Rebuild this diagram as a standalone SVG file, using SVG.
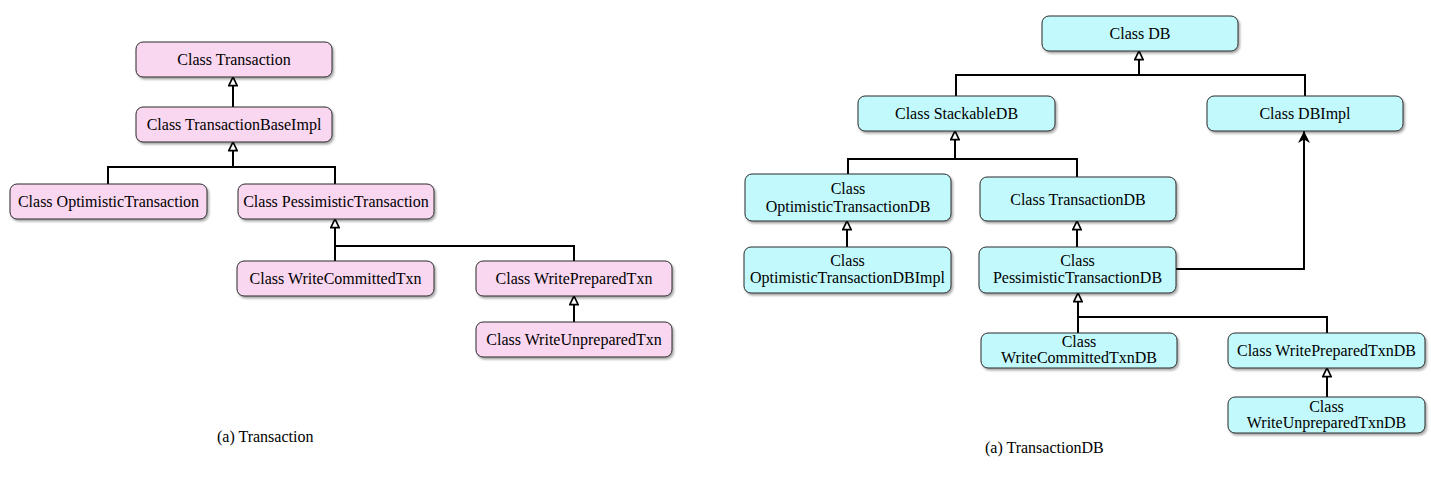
<svg xmlns="http://www.w3.org/2000/svg" width="1431" height="497" viewBox="0 0 1431 497">
<style>
  .n rect { stroke: #2b2b2b; stroke-width: 1; filter: url(#sh); }
  .pink rect { fill: #FAD7F0; }
  .cyan rect { fill: #C2F9FC; }
  text { font-family: "Liberation Serif", "Times New Roman", serif; font-size: 16px; fill: #000; }
  .n text { text-anchor: middle; }
  #connectors path { fill: none; stroke: #000; stroke-width: 2; }
  .inh { marker-end: url(#open); }
  .dep { marker-end: url(#classic); }
</style>
<defs>
  <filter id="sh" x="-10%" y="-20%" width="130%" height="160%">
    <feDropShadow dx="1.5" dy="2" stdDeviation="1.2" flood-color="#000" flood-opacity="0.35"/>
  </filter>
  <marker id="open" viewBox="0 0 10 10" refX="9.5" refY="5" markerWidth="10" markerHeight="10" markerUnits="userSpaceOnUse" orient="auto">
    <path d="M0.8,0.8 L9.5,5 L0.8,9.2 Z" fill="#fff" stroke="#000" stroke-width="1.7"/>
  </marker>
  <marker id="classic" viewBox="0 0 10 10" refX="10" refY="5" markerWidth="13" markerHeight="12" markerUnits="userSpaceOnUse" orient="auto">
    <path d="M0,0 L10,5 L0,10 L3,5 Z" fill="#000"/>
  </marker>
</defs>
<rect x="0" y="0" width="1431" height="497" fill="#fff"/>

<g id="connectors">
  <path class="inh" d="M233,107 V77"/>
  <path d="M108,184 V167 H335 V184"/>
  <path class="inh" d="M233,167 V142"/>
  <path d="M574,261 V246 H335"/>
  <path class="inh" d="M335,261 V219"/>
  <path class="inh" d="M574,322 V296"/>

  <path d="M956,96 V75 H1305 V96"/>
  <path class="inh" d="M1139,75 V51"/>
  <path d="M848,174 V159 H1077 V177"/>
  <path class="inh" d="M955,159 V131"/>
  <path class="inh" d="M847,247 V221"/>
  <path class="inh" d="M1077,247 V221"/>
  <path class="dep" d="M1176,269 H1304 V131"/>
  <path d="M1327,333 V317 H1078"/>
  <path class="inh" d="M1078,333 V293"/>
  <path class="inh" d="M1327,397 V368"/>
</g>

<g id="n-transaction" class="n pink"><rect x="136" y="42" width="196" height="35" rx="7"/><text x="234" y="65">Class Transaction</text></g>
<g id="n-transactionbaseimpl" class="n pink"><rect x="136" y="107" width="196" height="35" rx="7"/><text x="234" y="130">Class TransactionBaseImpl</text></g>
<g id="n-optimistictransaction" class="n pink"><rect x="10" y="184" width="197" height="35" rx="7"/><text x="108.5" y="207">Class OptimisticTransaction</text></g>
<g id="n-pessimistictransaction" class="n pink"><rect x="238" y="184" width="196" height="35" rx="7"/><text x="336" y="207">Class PessimisticTransaction</text></g>
<g id="n-writecommittedtxn" class="n pink"><rect x="237" y="261" width="197" height="35" rx="7"/><text x="335.5" y="284">Class WriteCommittedTxn</text></g>
<g id="n-writepreparedtxn" class="n pink"><rect x="476" y="261" width="196" height="35" rx="7"/><text x="574" y="284">Class WritePreparedTxn</text></g>
<g id="n-writeunpreparedtxn" class="n pink"><rect x="476" y="322" width="196" height="35" rx="7"/><text x="574" y="345">Class WriteUnpreparedTxn</text></g>

<g id="n-db" class="n cyan"><rect x="1042" y="16" width="196" height="35" rx="7"/><text x="1140" y="39">Class DB</text></g>
<g id="n-stackabledb" class="n cyan"><rect x="858" y="96" width="197" height="35" rx="7"/><text x="956.5" y="119">Class StackableDB</text></g>
<g id="n-dbimpl" class="n cyan"><rect x="1207" y="96" width="196" height="35" rx="7"/><text x="1305" y="119">Class DBImpl</text></g>
<g id="n-optimistictransactiondb" class="n cyan"><rect x="745" y="174" width="206" height="47" rx="7"/><text x="848" y="194">Class</text><text x="848" y="211.5">OptimisticTransactionDB</text></g>
<g id="n-transactiondb" class="n cyan"><rect x="980" y="177" width="196" height="44" rx="7"/><text x="1078" y="204.5">Class TransactionDB</text></g>
<g id="n-optimistictransactiondbimpl" class="n cyan"><rect x="744" y="247" width="207" height="46" rx="7"/><text x="847.5" y="266">Class</text><text x="847.5" y="283">OptimisticTransactionDBImpl</text></g>
<g id="n-pessimistictransactiondb" class="n cyan"><rect x="979" y="247" width="197" height="46" rx="7"/><text x="1077.5" y="266">Class</text><text x="1077.5" y="283">PessimisticTransactionDB</text></g>
<g id="n-writecommittedtxndb" class="n cyan"><rect x="981" y="333" width="196" height="35" rx="7"/><text x="1079" y="347">Class</text><text x="1079" y="363">WriteCommittedTxnDB</text></g>
<g id="n-writepreparedtxndb" class="n cyan"><rect x="1228" y="333" width="197" height="35" rx="7"/><text x="1326.5" y="356">Class WritePreparedTxnDB</text></g>
<g id="n-writeunpreparedtxndb" class="n cyan"><rect x="1228" y="397" width="197" height="36" rx="7"/><text x="1326.5" y="411.5">Class</text><text x="1326.5" y="428">WriteUnpreparedTxnDB</text></g>

<text x="217" y="442">(a) Transaction</text>
<text x="985" y="453">(a) TransactionDB</text>
</svg>
